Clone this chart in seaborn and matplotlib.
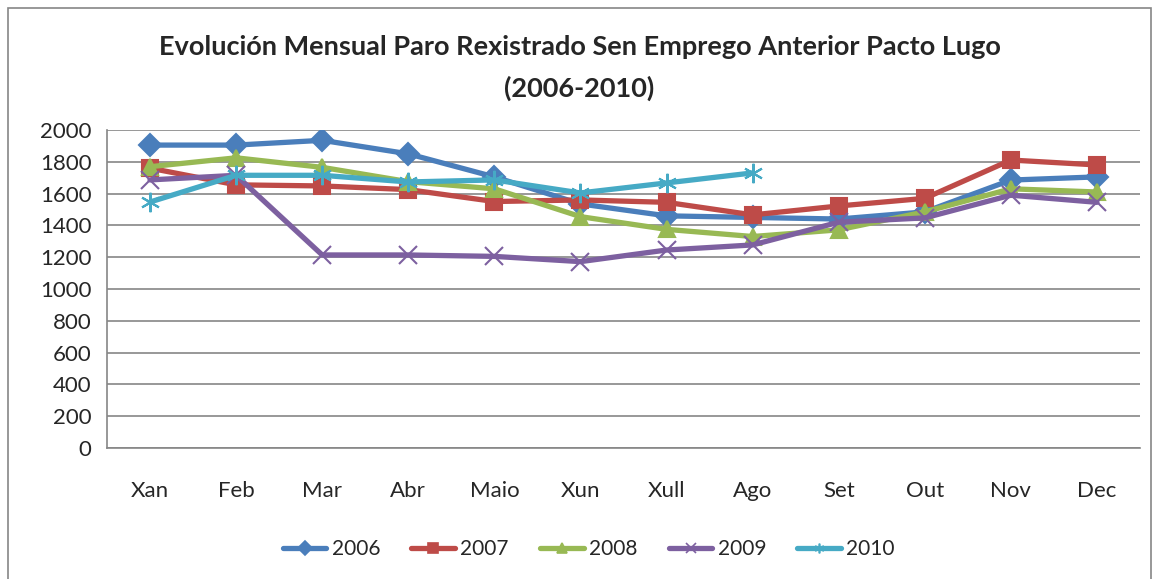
import numpy as np
import pandas as pd
import seaborn as sns
import matplotlib.pyplot as plt
from matplotlib.patches import Rectangle

sns.set_style("white")
plt.rcParams['font.family'] = ['Lato', 'DejaVu Sans']

meses = ["Xan", "Feb", "Mar", "Abr", "Maio", "Xun", "Xull", "Ago", "Set", "Out", "Nov", "Dec"]
anos = ["2006", "2007", "2008", "2009", "2010"]

v2006 = [1905, 1905, 1935, 1850, 1705, 1535, 1460, 1450, 1440, 1485, 1685, 1705]
v2007 = [1760, 1655, 1648, 1625, 1550, 1560, 1545, 1466, 1522, 1570, 1811, 1780]
v2008 = [1769, 1825, 1765, 1675, 1630, 1455, 1375, 1330, 1372, 1485, 1630, 1610]
v2009 = [1686, 1715, 1214, 1214, 1205, 1172, 1245, 1277, 1420, 1447, 1590, 1545]
v2010 = [1547, 1715, 1715, 1673, 1686, 1604, 1667, 1730]

series = {"2006": v2006, "2007": v2007, "2008": v2008, "2009": v2009, "2010": v2010}
rows = []
for ano, vals in series.items():
    for i, v in enumerate(vals):
        rows.append({"mes": i, "ano": ano, "paro": v})
df = pd.DataFrame(rows)

cores = {"2006": "#4A7EBB", "2007": "#BE4B48", "2008": "#98B954", "2009": "#7D60A0", "2010": "#46AAC5"}
marcas = {"2006": "D", "2007": "s", "2008": "^", "2009": "x", "2010": (6, 2, 0)}
tamanhos = {"2006": 11, "2007": 12, "2008": 12, "2009": 13, "2010": 14}

fig = plt.figure(figsize=(11.59, 5.79), dpi=100)
ax = fig.add_axes([0.0923, 0.2263, 0.8913, 0.5492])

for ano in anos:
    sns.lineplot(data=df[df["ano"] == ano], x="mes", y="paro", color=cores[ano],
                 marker=marcas[ano], markersize=tamanhos[ano], markeredgecolor=cores[ano],
                 markeredgewidth=1.5, linewidth=3.8, ax=ax, label=ano)
ax.get_legend().remove()

ax.set_xlim(-0.5, 11.5)
ax.set_ylim(0, 2000)
ax.set_yticks(np.arange(0, 2001, 200))
ax.set_xticks(range(12))
ax.set_xticklabels(meses)
ax.set_xticks(np.arange(-0.5, 12, 1), minor=True)
ax.tick_params(axis="x", which="major", length=0, pad=24, labelsize=16)
ax.tick_params(axis="x", which="minor", length=7, color="#868686", direction="out")
ax.tick_params(axis="y", length=7, color="#868686", direction="out", labelsize=16, pad=4)
ax.yaxis.grid(True, color="#868686", linewidth=1.2)
ax.set_axisbelow(True)
for s in ["top", "right"]:
    ax.spines[s].set_visible(False)
for s in ["left", "bottom"]:
    ax.spines[s].set_color("#868686")
    ax.spines[s].set_linewidth(1.2)
ax.set_xlabel("")
ax.set_ylabel("")

fig.text(0.5, 0.918, "Evolución Mensual Paro Rexistrado Sen Emprego Anterior Pacto Lugo",
         ha="center", va="center", fontsize=19.5, fontweight="bold")
fig.text(0.5, 0.848, "(2006-2010)", ha="center", va="center", fontsize=19.5, fontweight="bold")

handles = []
for ano in anos:
    h, = ax.plot([], [], color=cores[ano], marker=marcas[ano], linewidth=3.8, markersize=7,
                 markeredgecolor=cores[ano], markeredgewidth=1.2)
    handles.append(h)
fig.legend(handles, anos, loc="center", bbox_to_anchor=(0.508, 0.052), ncol=5, frameon=False,
           fontsize=15, handlelength=2.1, columnspacing=1.5, handletextpad=0.25)

fig.patches.append(Rectangle((0.007, -0.01), 0.986, 0.997, transform=fig.transFigure,
                             fill=False, edgecolor="#868686", linewidth=1.2))

plt.savefig("out.png", dpi=100)
